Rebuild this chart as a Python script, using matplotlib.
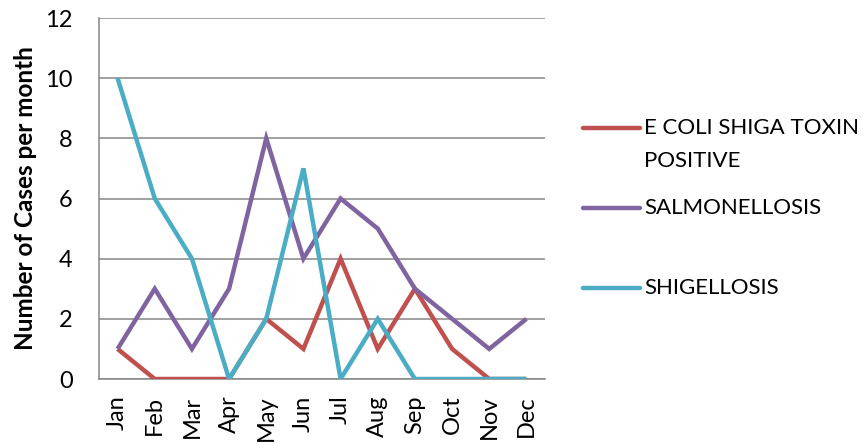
import matplotlib
matplotlib.use("Agg")
import matplotlib.pyplot as plt
from matplotlib.lines import Line2D

months = ["Jan", "Feb", "Mar", "Apr", "May", "Jun", "Jul", "Aug", "Sep", "Oct", "Nov", "Dec"]
ecoli = [1, 0, 0, 0, 2, 1, 4, 1, 3, 1, 0, 0]
salmonellosis = [1, 3, 1, 3, 8, 4, 6, 5, 3, 2, 1, 2]
shigellosis = [10, 6, 4, 0, 2, 7, 0, 2, 0, 0, 0, 0]
series_names = ["E COLI SHIGA TOXIN\nPOSITIVE", "SALMONELLOSIS", "SHIGELLOSIS"]
colors = ["#C0504D", "#8064A2", "#4BACC6"]
yticks = [0, 2, 4, 6, 8, 10, 12]

plt.rcParams['font.family'] = ['Lato', 'DejaVu Sans']

fig = plt.figure(figsize=(8.63, 4.44), dpi=100)
ax = fig.add_axes([99/863, 1-379/444, (545-99)/863, (379-18)/444])

x = list(range(len(months)))
for vals, c in zip([ecoli, salmonellosis, shigellosis], colors):
    ax.plot(x, vals, color=c, lw=3.2, solid_joinstyle='miter', solid_capstyle='butt', zorder=3)

ax.set_xlim(-0.5, 11.5)
ax.set_ylim(0, 12)
ax.set_yticks(yticks)
ax.set_yticklabels([str(v) for v in yticks], fontsize=17)
ax.set_xticks(x)
ax.set_xticklabels(months, rotation=90, fontsize=17)
ax.tick_params(axis='both', length=0)
ax.tick_params(axis='y', pad=19)
ax.tick_params(axis='x', pad=12)
ax.grid(axis='y', color='#868686', lw=1.1, zorder=0)
for s in ['top', 'right']:
    ax.spines[s].set_visible(False)
for s in ['left', 'bottom']:
    ax.spines[s].set_color('#868686')
    ax.spines[s].set_linewidth(1.1)
ax.set_ylabel("Number of Cases per month", fontsize=17.5, fontweight='bold', labelpad=6)

# legend drawn manually
ys = [128, 208, 288]
for name, c, yy in zip(series_names, colors, ys):
    fy = 1 - yy/444
    fig.add_artist(Line2D([583/863, 640/863], [fy, fy], color=c, lw=3.2, solid_capstyle='round'))
    lines = name.split("\n")
    for i, ln in enumerate(lines):
        fig.text(644/863, 1 - (yy + i*33)/444, ln, fontsize=16, va='center', ha='left')

fig.savefig("out.png", dpi=100)
